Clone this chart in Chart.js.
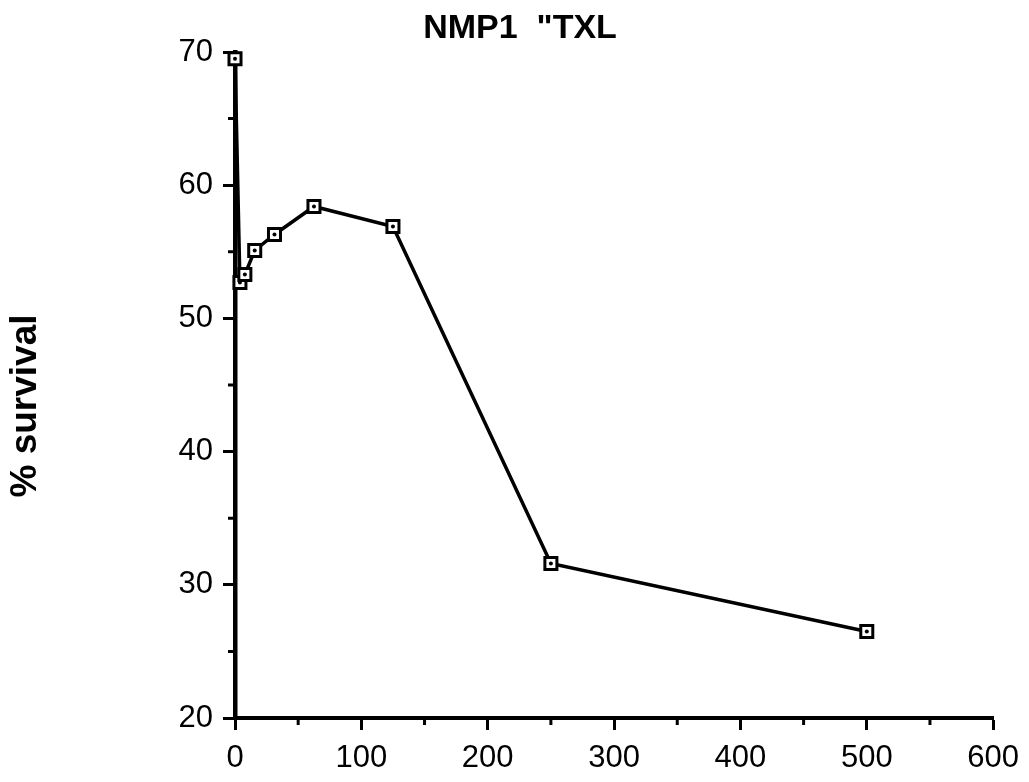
<!DOCTYPE html>
<html>
<head>
<meta charset="utf-8">
<style>
  html, body { margin: 0; padding: 0; background: #ffffff; }
  canvas { display: block; }
</style>
<script src="https://cdn.jsdelivr.net/npm/chart.js@4/dist/chart.umd.min.js"></script>
</head>
<body>
<canvas id="c" width="1029" height="782"></canvas>
<script>
// ---- data ----
const doses    = [0, 3.9, 7.8, 15.6, 31.25, 62.5, 125, 250, 500];
const survival = [69.5, 52.7, 53.3, 55.1, 56.3, 58.4, 56.9, 31.6, 26.5];
const xTicks   = [0, 100, 200, 300, 400, 500, 600];
const yTicks   = [20, 30, 40, 50, 60, 70];
const xMinor   = [50, 150, 250, 350, 450, 550];
const yMinor   = [25, 35, 45, 55, 65];
const titleText = 'NMP1  "TXL';
const yTitleText = '% survival';

const points = doses.map((d, i) => ({ x: d, y: survival[i] }));

const FONT = "'Liberation Sans', Arial, Helvetica, sans-serif";

const extras = {
  id: 'extras',
  afterDraw(chart) {
    const ctx = chart.ctx;
    const xs = chart.scales.x, ys = chart.scales.y;
    const area = chart.chartArea;
    ctx.save();
    ctx.strokeStyle = '#000';
    ctx.lineWidth = 3;
    ctx.beginPath();
    xMinor.forEach(v => {
      const px = xs.getPixelForValue(v);
      ctx.moveTo(px, area.bottom);
      ctx.lineTo(px, area.bottom + 7);
    });
    yMinor.forEach(v => {
      const py = ys.getPixelForValue(v);
      ctx.moveTo(area.left, py);
      ctx.lineTo(area.left - 7, py);
    });
    ctx.stroke();
    // title
    ctx.fillStyle = '#000';
    ctx.textAlign = 'center';
    ctx.textBaseline = 'middle';
    ctx.font = 'bold 34px ' + FONT;
    ctx.fillText(titleText, 520, 29);
    // y axis title
    ctx.translate(26, 406);
    ctx.rotate(-Math.PI / 2);
    ctx.font = 'bold 37px ' + FONT;
    ctx.fillText(yTitleText, 0, 0);
    ctx.restore();
  }
};

new Chart(document.getElementById('c'), {
  type: 'line',
  data: {
    datasets: [
      {
        data: points,
        order: 0,
        showLine: false,
        pointStyle: 'circle',
        pointRadius: 2,
        pointBackgroundColor: '#000',
        pointBorderColor: '#000',
        pointBorderWidth: 0,
        clip: false
      },
      {
        data: points,
        order: 1,
        borderColor: '#000',
        borderWidth: 3.5,
        tension: 0,
        fill: false,
        pointStyle: 'rect',
        pointRadius: 8.5,
        pointBorderWidth: 3,
        pointBackgroundColor: '#fff',
        pointBorderColor: '#000',
        clip: false
      }
    ]
  },
  options: {
    responsive: false,
    animation: false,
    events: [],
    layout: { padding: { top: 52, right: 33, left: 0, bottom: 0 } },
    plugins: {
      legend: { display: false },
      title: { display: false },
      tooltip: { enabled: false }
    },
    scales: {
      x: {
        type: 'linear',
        min: 0, max: 600,
        afterBuildTicks: s => { s.ticks = xTicks.map(v => ({ value: v })); },
        afterFit: s => { s.height = 64; },
        border: { display: true, color: '#000', width: 4 },
        grid: { drawOnChartArea: false, drawTicks: true, tickLength: 12, tickWidth: 3, tickColor: '#000' },
        ticks: { color: '#000', font: { family: FONT, size: 31 }, padding: 10, maxRotation: 0 }
      },
      y: {
        type: 'linear',
        min: 20, max: 70,
        afterBuildTicks: s => { s.ticks = yTicks.map(v => ({ value: v })); },
        afterFit: s => { s.width = 235; },
        border: { display: true, color: '#000', width: 4.5 },
        grid: { drawOnChartArea: false, drawTicks: true, tickLength: 12, tickWidth: 3, tickColor: '#000' },
        ticks: { color: '#000', font: { family: FONT, size: 31 }, padding: 10 }
      }
    }
  },
  plugins: [extras]
});
</script>
</body>
</html>
